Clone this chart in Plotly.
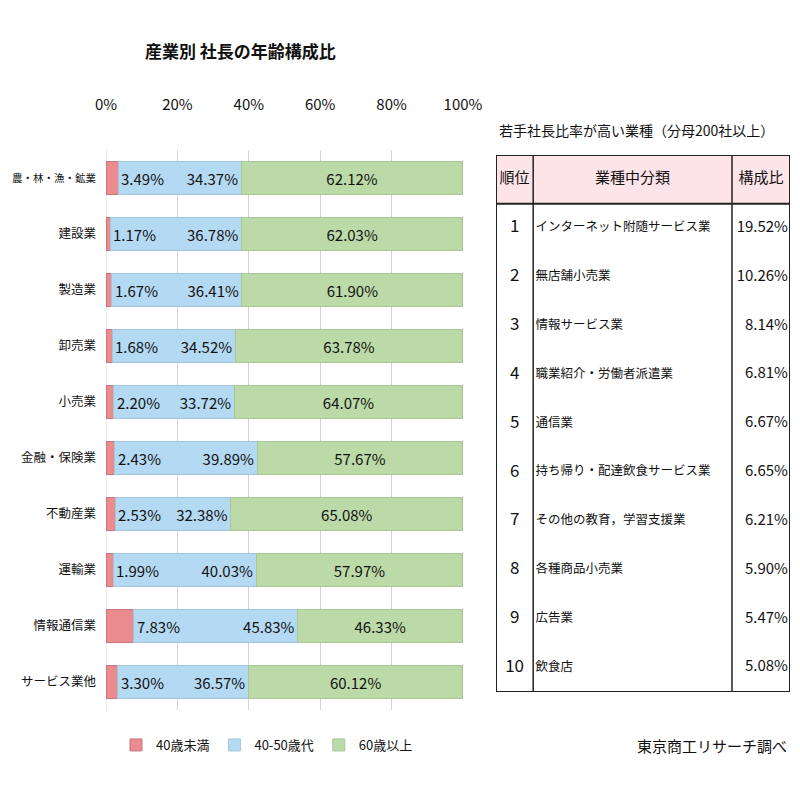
import plotly.graph_objects as go

# ---- bar chart data ----
industries = ["農・林・漁・鉱業", "建設業", "製造業", "卸売業", "小売業",
              "金融・保険業", "不動産業", "運輸業", "情報通信業", "サービス業他"]
under40 = [3.49, 1.17, 1.67, 1.68, 2.20, 2.43, 2.53, 1.99, 7.83, 3.30]
age40_50 = [34.37, 36.78, 36.41, 34.52, 33.72, 39.89, 32.38, 40.03, 45.83, 36.57]
over60 = [62.12, 62.03, 61.90, 63.78, 64.07, 57.67, 65.08, 57.97, 46.33, 60.12]
series_names = ["40歳未満", "40-50歳代", "60歳以上"]
x_ticks = [0, 20, 40, 60, 80, 100]

# ---- table data ----
table_header = ["順位", "業種中分類", "構成比"]
ranks = ["1", "2", "3", "4", "5", "6", "7", "8", "9", "10"]
sub_industries = ["インターネット附随サービス業", "無店舗小売業", "情報サービス業",
                  "職業紹介・労働者派遣業", "通信業", "持ち帰り・配達飲食サービス業",
                  "その他の教育，学習支援業", "各種商品小売業", "広告業", "飲食店"]
shares = [19.52, 10.26, 8.14, 6.81, 6.67, 6.65, 6.21, 5.90, 5.47, 5.08]

FONT = "Noto Sans CJK JP"
RED = "#ea8b90"
BLUE = "#b4d9f3"
GREEN = "#bcdaa8"

# page body has an 8px margin: figure is 784 px and placed at (8, 8)
OFF = 8
W = 784


def fx(p):
    return (p - OFF) / W


def fy(p):
    return 1 - (p - OFF) / W


# long category names get a slightly smaller font so they fit left of the axis
y_ticktext = [f"<span style='font-size:10.5px'>{s}</span>" if len(s) > 6 else s
              for s in industries]

fig = go.Figure()

fig.add_trace(go.Bar(
    y=industries, x=under40, name=series_names[0], orientation="h",
    marker=dict(color=RED, line=dict(color="#c9767b", width=1)),
    hoverinfo="skip"))
fig.add_trace(go.Bar(
    y=industries, x=age40_50, name=series_names[1], orientation="h",
    marker=dict(color=BLUE, line=dict(color="#a3c6de", width=1)),
    text=[f"{v:.2f}%" for v in age40_50], textposition="inside",
    insidetextanchor="end", constraintext="none",
    textfont=dict(family=FONT, size=15, color="#111"), hoverinfo="skip"))
fig.add_trace(go.Bar(
    y=industries, x=over60, name=series_names[2], orientation="h",
    marker=dict(color=GREEN, line=dict(color="#a9c796", width=1)),
    text=[f"{v:.2f}%" for v in over60], textposition="inside",
    insidetextanchor="middle", constraintext="none",
    textfont=dict(family=FONT, size=15, color="#111"), hoverinfo="skip"))

annotations = []
for ind, v in zip(industries, under40):
    annotations.append(dict(x=v, y=ind, xref="x", yref="y", text=f"{v:.2f}%",
                            showarrow=False, xanchor="left", xshift=1,
                            font=dict(family=FONT, size=15, color="#111")))

# ---- table via text traces on its own axes ----
col_sep1 = 0.1265
col_sep2 = 0.8027
header_x = [col_sep1 / 2, (col_sep1 + col_sep2) / 2, (col_sep2 + 1) / 2]
fig.add_trace(go.Scatter(
    x=header_x, y=[-1, -1, -1], mode="text", text=table_header,
    textposition="middle center", textfont=dict(family=FONT, size=15, color="#111"),
    xaxis="x2", yaxis="y2", showlegend=False, hoverinfo="skip"))
rows = list(range(len(ranks)))
fig.add_trace(go.Scatter(
    x=[col_sep1 / 2] * len(ranks), y=rows, mode="text", text=ranks,
    textposition="middle center", textfont=dict(family=FONT, size=17, color="#111"),
    xaxis="x2", yaxis="y2", showlegend=False, hoverinfo="skip"))
fig.add_trace(go.Scatter(
    x=[col_sep1 + 0.008] * len(ranks), y=rows, mode="text", text=sub_industries,
    textposition="middle right", textfont=dict(family=FONT, size=12.5, color="#111"),
    xaxis="x2", yaxis="y2", showlegend=False, hoverinfo="skip"))
fig.add_trace(go.Scatter(
    x=[0.993] * len(ranks), y=rows, mode="text", text=[f"{v:.2f}%" for v in shares],
    textposition="middle left", textfont=dict(family=FONT, size=15, color="#111"),
    xaxis="x2", yaxis="y2", showlegend=False, hoverinfo="skip"))

shapes = [
    dict(type="rect", xref="x2", yref="y2", x0=0, x1=1, y0=-1.5, y1=-0.5,
         fillcolor="#fde4e8", line=dict(width=0), layer="below"),
    dict(type="rect", xref="x2", yref="y2", x0=0, x1=1, y0=-1.5, y1=len(ranks) - 0.5,
         line=dict(color="#222", width=2)),
    dict(type="line", xref="x2", yref="y2", x0=0, x1=1, y0=-0.5, y1=-0.5,
         line=dict(color="#222", width=2)),
    dict(type="line", xref="x2", yref="y2", x0=col_sep1, x1=col_sep1, y0=-1.5,
         y1=len(ranks) - 0.5, line=dict(color="#222", width=1.5)),
    dict(type="line", xref="x2", yref="y2", x0=col_sep2, x1=col_sep2, y0=-1.5,
         y1=len(ranks) - 0.5, line=dict(color="#222", width=1.5)),
    dict(type="line", xref="x", yref="paper", x0=0, x1=0,
         y0=fy(710), y1=fy(150), line=dict(color="#d4d4d4", width=1),
         layer="below"),
]

annotations += [
    dict(x=fx(240), y=fy(50), xref="paper", yref="paper",
         text="<b>産業別 社長の年齢構成比</b>", showarrow=False,
         xanchor="center", yanchor="middle", font=dict(family=FONT, size=17, color="#111")),
    dict(x=fx(497), y=fy(130), xref="paper", yref="paper",
         text="若手社長比率が高い業種（分母200社以上）", showarrow=False,
         xanchor="left", yanchor="middle", font=dict(family=FONT, size=14, color="#111")),
    dict(x=fx(789), y=fy(745), xref="paper", yref="paper",
         text="東京商工リサーチ調べ", showarrow=False,
         xanchor="right", yanchor="middle", font=dict(family=FONT, size=15, color="#111")),
]

fig.update_layout(
    width=W, height=W,
    margin=dict(l=0, r=0, t=0, b=0, autoexpand=False),
    paper_bgcolor="white", plot_bgcolor="white",
    barmode="stack", bargap=0.4,
    font=dict(family=FONT, size=14, color="#111"),
    xaxis=dict(domain=[fx(106), fx(463)], range=[0, 100], side="top",
               tickvals=x_ticks, ticktext=[f"{t}%" for t in x_ticks],
               showgrid=True, gridcolor="#d4d4d4", gridwidth=1,
               zeroline=False, showline=False, ticks="", automargin=False,
               ticklabelstandoff=36, tickfont=dict(family=FONT, size=15, color="#111"),
               fixedrange=True),
    yaxis=dict(domain=[fy(710), fy(150)], autorange="reversed",
               type="category", showgrid=False, ticks="", showline=False,
               automargin=False, tickmode="array", tickvals=industries,
               ticktext=y_ticktext,
               ticklabelstandoff=9, tickfont=dict(family=FONT, size=12.5, color="#111"),
               fixedrange=True),
    xaxis2=dict(domain=[fx(496), fx(790)], range=[0, 1], anchor="y2",
                visible=False, fixedrange=True, automargin=False),
    yaxis2=dict(domain=[fy(692), fy(155)], range=[len(ranks) - 0.5, -1.5],
                anchor="x2", visible=False, fixedrange=True, automargin=False),
    legend=dict(orientation="h", x=fx(116), y=fy(745), xanchor="left",
                yanchor="middle", font=dict(family=FONT, size=13, color="#111"),
                traceorder="normal", bgcolor="rgba(0,0,0,0)"),
    shapes=shapes,
    annotations=annotations,
    showlegend=True,
)

fig.write_html("out.html", config={"displayModeBar": False})
